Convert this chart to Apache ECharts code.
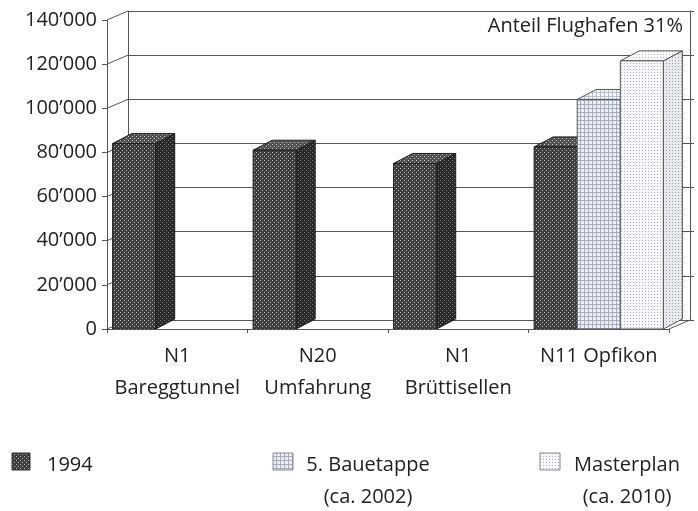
<!DOCTYPE html>
<html><head><meta charset="utf-8">
<script src="https://cdn.jsdelivr.net/npm/echarts@6/dist/echarts.min.js"></script>
<style>html,body{margin:0;padding:0;background:#fff}#c{width:698px;height:511px}</style>
</head><body><div id="c"></div>
<script>
// ---- data ----
const categories = ['N1\nBareggtunnel', 'N20\nUmfahrung', 'N1\nBrüttisellen', 'N11 Opfikon'];
const values1994 = [84000, 81000, 75000, 82500];
const valuesBauetappe = [null, null, null, 104000];
const valuesMasterplan = [null, null, null, 121500];
const seriesNames = ['1994', '5. Bauetappe\n(ca. 2002)', 'Masterplan\n(ca. 2010)'];
const yTickLabels = ['0', '20’000', '40’000', '60’000', '80’000', '100’000', '120’000', '140’000'];
const annotation = 'Anteil Flughafen 31%';

// ---- styling helpers ----
const FONT = '"Open Sans", "DejaVu Sans", sans-serif';
const TXT = '#222';
const WALL_DX = 21, WALL_DY = -9;
const BAR_DX = 19, BAR_DY = -10;
const Y_STEP = 20000;
const Y_MAX = Y_STEP * (yTickLabels.length - 1);

function pattern(size, bg, fg, cells) {
  const c = document.createElement('canvas');
  c.width = size; c.height = size;
  const g = c.getContext('2d');
  g.fillStyle = bg; g.fillRect(0, 0, size, size);
  g.fillStyle = fg;
  cells.forEach(p => g.fillRect(p[0], p[1], p[2] || 1, p[3] || 1));
  return { image: c, repeat: 'repeat' };
}
const gridCells4 = [[0, 0, 4, 1], [0, 0, 1, 4]];
const fills = [
  { front: pattern(4, '#3e3e3e', '#b8b8b8', [[0, 0], [2, 2]]),
    side: pattern(4, '#282828', '#808080', [[0, 0], [2, 2]]),
    top: pattern(4, '#505050', '#c8c8c8', [[0, 0], [2, 2]]),
    stroke: '#1e1e1e' },
  { front: pattern(4, '#eceef3', '#a6acbc', gridCells4),
    side: pattern(4, '#dcdfe6', '#9097a8', gridCells4),
    top: pattern(4, '#f4f5f8', '#b8bdca', gridCells4),
    stroke: '#555' },
  { front: pattern(3, '#f5f6f8', '#a9adb6', [[0, 0]]),
    side: pattern(3, '#e9eaee', '#9ca0aa', [[0, 0]]),
    top: pattern(3, '#f8f8fa', '#b4b8c0', [[0, 0]]),
    stroke: '#555' }
];

const seriesValues = [values1994, valuesBauetappe, valuesMasterplan];

function barRenderer(s) {
  return function (params, api) {
    const cat = api.value(0), v = api.value(1);
    const base = api.coord([cat, 0]);
    const top = api.coord([cat, v]);
    const cw = api.size([1, 0])[0];
    const slot = cw * 0.92 / 3;
    const x = base[0] - cw * 0.46 + s * slot;
    const w = slot;
    const y0 = base[1], y1 = top[1];
    const f = fills[s];
    const ls = { stroke: f.stroke, lineWidth: 1 };
    return {
      type: 'group',
      children: [
        { type: 'polygon', shape: { points: [[x + w, y1], [x + w + BAR_DX, y1 + BAR_DY], [x + w + BAR_DX, y0 + BAR_DY], [x + w, y0]] },
          style: Object.assign({ fill: f.side }, ls) },
        { type: 'polygon', shape: { points: [[x, y1], [x + BAR_DX, y1 + BAR_DY], [x + w + BAR_DX, y1 + BAR_DY], [x + w, y1]] },
          style: Object.assign({ fill: f.top }, ls) },
        { type: 'rect', shape: { x: x, y: y1, width: w, height: y0 - y1 },
          style: Object.assign({ fill: f.front }, ls) }
      ]
    };
  };
}

function wallRenderer(params, api) {
  const cw = api.size([1, 0])[0];
  const xl = api.coord([0, 0])[0] - cw / 2;
  const xr = api.coord([categories.length - 1, 0])[0] + cw / 2;
  const children = [];
  yTickLabels.forEach((t, i) => {
    const y = api.coord([0, i * Y_STEP])[1];
    children.push({ type: 'line', shape: { x1: xl, y1: y, x2: xl + WALL_DX, y2: y + WALL_DY },
      style: { stroke: '#555', lineWidth: 1 } });
  });
  const y0 = api.coord([0, 0])[1];
  children.push({ type: 'line', shape: { x1: xr, y1: y0, x2: xr + WALL_DX, y2: y0 + WALL_DY },
    style: { stroke: '#555', lineWidth: 1 } });
  return { type: 'group', children: children };
}

const chart = echarts.init(document.getElementById('c'), null, { renderer: 'canvas' });

const series = [
  { type: 'custom', xAxisIndex: 0, yAxisIndex: 0, z: 1, silent: true,
    renderItem: wallRenderer, data: [[0, 0]], encode: { x: 0, y: 1 } }
];
seriesValues.forEach((vals, s) => {
  series.push({
    type: 'custom', name: seriesNames[s], xAxisIndex: 0, yAxisIndex: 0, z: 2 + s,
    renderItem: barRenderer(s), encode: { x: 0, y: 1 },
    data: vals.map((v, i) => [i, v]).filter(d => d[1] != null)
  });
});

const legendPos = [
  { sx: 12, sw: 18, tx: 47, align: 'left' },
  { sx: 273, sw: 20, tx: 368, align: 'center' },
  { sx: 540, sw: 20, tx: 627, align: 'center' }
];
const graphic = [
  { type: 'text', right: 15, top: 16,
    style: { text: annotation, font: '20px ' + FONT, fill: TXT } }
];
seriesNames.forEach((n, s) => {
  const p = legendPos[s];
  graphic.push({ type: 'rect', shape: { x: p.sx, y: 453, width: p.sw, height: 17 },
    style: { fill: fills[s].front, stroke: s === 0 ? '#333' : '#888', lineWidth: 1 } });
  graphic.push({ type: 'text', x: p.tx, y: 449,
    style: { text: n, font: '20px ' + FONT, fill: TXT, textAlign: p.align, textVerticalAlign: 'top', lineHeight: 32 } });
});

chart.setOption({
  animation: false,
  backgroundColor: '#fff',
  grid: [
    { left: 107, right: 29, top: 20, bottom: 182 },
    { left: 128, right: 8, top: 11, bottom: 191 }
  ],
  xAxis: [
    { type: 'category', gridIndex: 0, data: categories, boundaryGap: true,
      axisLine: { show: true, lineStyle: { color: '#555', width: 1 } },
      axisTick: { show: true, length: 4, lineStyle: { color: '#555' } },
      axisLabel: { interval: 0, fontFamily: FONT, fontSize: 20, color: TXT, lineHeight: 32, margin: 11 },
      splitLine: { show: false }, z: 5 },
    { type: 'category', gridIndex: 1, data: categories, boundaryGap: true,
      axisLine: { show: true, lineStyle: { color: '#555', width: 1 } },
      axisTick: { show: false }, axisLabel: { show: false }, splitLine: { show: false }, z: 0 }
  ],
  yAxis: [
    { type: 'value', gridIndex: 0, min: 0, max: Y_MAX, interval: Y_STEP,
      axisLine: { show: true, lineStyle: { color: '#555', width: 1 } },
      axisTick: { show: true, length: 5, lineStyle: { color: '#555' } },
      axisLabel: { fontFamily: FONT, fontSize: 20, color: TXT, margin: 10,
        formatter: v => yTickLabels[Math.round(v / Y_STEP)] },
      splitLine: { show: false }, z: 5 },
    { type: 'value', gridIndex: 1, min: 0, max: Y_MAX, interval: Y_STEP, position: 'left',
      axisLine: { show: true, lineStyle: { color: '#555', width: 1 } },
      axisTick: { show: false }, axisLabel: { show: false },
      splitLine: { show: true, lineStyle: { color: '#555', width: 1 } }, z: 0 },
    { type: 'value', gridIndex: 1, min: 0, max: Y_MAX, interval: Y_STEP, position: 'right',
      axisLine: { show: true, lineStyle: { color: '#555', width: 1 } },
      axisTick: { show: true, length: 4, lineStyle: { color: '#555' } }, axisLabel: { show: false },
      splitLine: { show: false }, z: 0 }
  ],
  series: series,
  graphic: graphic
});
</script>
</body></html>
